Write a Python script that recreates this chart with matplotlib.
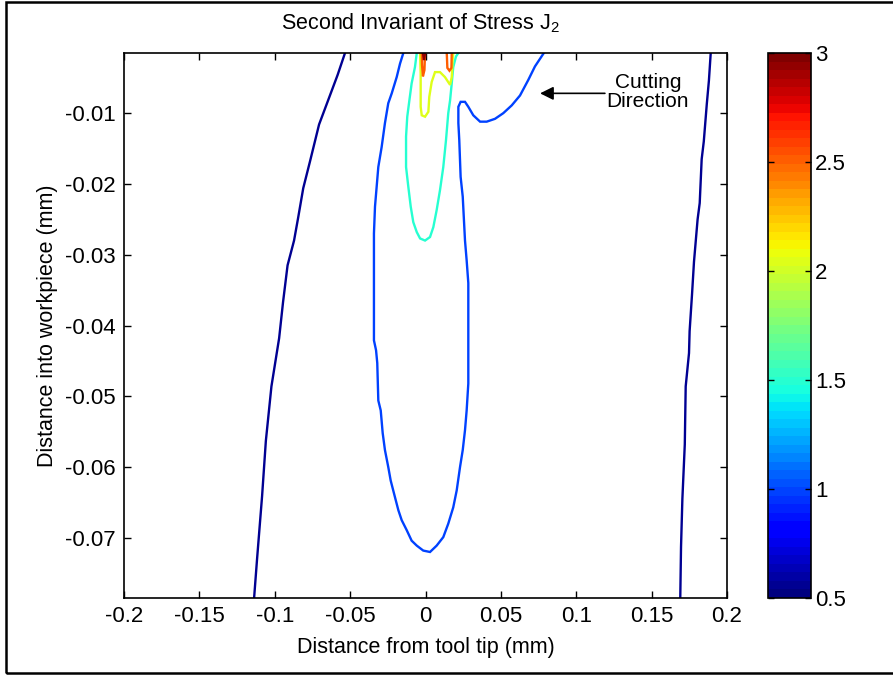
import matplotlib
matplotlib.use("Agg")
import matplotlib.pyplot as plt
import numpy as np
from matplotlib.colors import Normalize, ListedColormap
from matplotlib.cm import ScalarMappable
from matplotlib.ticker import FormatStrFormatter
from matplotlib.patches import Rectangle

plt.rcParams['font.family'] = ['Liberation Sans', 'DejaVu Sans']
plt.rcParams['mathtext.fontset'] = 'custom'
plt.rcParams['mathtext.rm'] = 'Liberation Sans'
plt.rcParams['mathtext.default'] = 'regular'

# contour levels of J2
levels = [0.55, 0.55, 1.0, 1.5, 2.05, 2.5, 2.5, 2.95]

# outer left contour
outer_left_x = [-0.0534, -0.0583, -0.0655, -0.0706, -0.0766, -0.0811, -0.0845, -0.0872,
                -0.0915, -0.0945, -0.0971, -0.1022, -0.1059, -0.1084, -0.1117, -0.1137]
outer_left_y = [-0.0015, -0.0046, -0.0087, -0.0116, -0.0168, -0.0206, -0.0248, -0.0280,
                -0.0315, -0.0367, -0.0418, -0.0486, -0.0563, -0.0641, -0.0729, -0.0785]

# outer right contour
outer_right_x = [0.1892, 0.1880, 0.1866, 0.1846, 0.1832, 0.1819, 0.1805, 0.1781,
                 0.1768, 0.1752, 0.1748, 0.1726, 0.1720, 0.1704, 0.1695, 0.1690]
outer_right_y = [-0.0015, -0.0054, -0.0087, -0.0140, -0.0165, -0.0227, -0.0250, -0.0310,
                 -0.0356, -0.0408, -0.0439, -0.0486, -0.0568, -0.0645, -0.0713, -0.0785]

# blue loop with the hook towards the cutting direction
blue_x = [-0.0147, -0.0169, -0.0191, -0.0224, -0.0247, -0.0269, -0.0291, -0.0313, -0.0324, -0.0335,
          -0.0342, -0.0342, -0.0342, -0.0328, -0.0320, -0.0313, -0.0297, -0.0284, -0.0269, -0.0247,
          -0.0231, -0.0202, -0.0180, -0.0158, -0.0125, -0.0092, -0.0058, -0.0015, 0.0030, 0.0074,
          0.0118, 0.0151, 0.0184, 0.0207, 0.0229, 0.0247, 0.0262, 0.0273, 0.0284, 0.0284,
          0.0273, 0.0262, 0.0247, 0.0233, 0.0224, 0.0218, 0.0218, 0.0233, 0.0262, 0.0284,
          0.0317, 0.0362, 0.0406, 0.0461, 0.0516, 0.0572, 0.0627, 0.0682, 0.0726, 0.0785]
blue_y = [-0.0015, -0.0030, -0.0049, -0.0072, -0.0086, -0.0114, -0.0148, -0.0176, -0.0204, -0.0232,
          -0.0270, -0.0308, -0.0421, -0.0435, -0.0453, -0.0506, -0.0520, -0.0552, -0.0576, -0.0600,
          -0.0619, -0.0643, -0.0661, -0.0675, -0.0689, -0.0704, -0.0711, -0.0718, -0.0720, -0.0711,
          -0.0699, -0.0680, -0.0657, -0.0633, -0.0600, -0.0576, -0.0548, -0.0520, -0.0482, -0.0340,
          -0.0308, -0.0280, -0.0218, -0.0190, -0.0138, -0.0114, -0.0091, -0.0084, -0.0084, -0.0091,
          -0.0103, -0.0112, -0.0112, -0.0108, -0.0100, -0.0089, -0.0075, -0.0053, -0.0034, -0.0015]

# cyan loop
cyan_x = [-0.0058, -0.0070, -0.0092, -0.0107, -0.0121, -0.0129, -0.0129, -0.0114, -0.0098, -0.0081,
          -0.0058, -0.0036, -0.0003, 0.0030, 0.0052, 0.0074, 0.0096, 0.0118, 0.0136, 0.0151,
          0.0163, 0.0174, 0.0184, 0.0202, 0.0218]
cyan_y = [-0.0015, -0.0035, -0.0058, -0.0082, -0.0105, -0.0133, -0.0176, -0.0204, -0.0232, -0.0254,
          -0.0268, -0.0277, -0.0280, -0.0275, -0.0261, -0.0237, -0.0209, -0.0176, -0.0138, -0.0100,
          -0.0082, -0.0058, -0.0035, -0.0020, -0.0015]

# yellow contour
yellow_x = [-0.0036, -0.0032, -0.0032, -0.0025, -0.0003, 0.0019, 0.0025, 0.0041, 0.0063, 0.0096,
            0.0129, 0.0163, 0.0174, 0.0180, 0.0184]
yellow_y = [-0.0015, -0.0044, -0.0091, -0.0103, -0.0105, -0.0098, -0.0077, -0.0056, -0.0042, -0.0042,
            -0.0049, -0.0060, -0.0049, -0.0025, -0.0015]

# red fingers and the dark red tip
red_left_x = [-0.0025, -0.0023, -0.0017, -0.0007, -0.0003]
red_left_y = [-0.0015, -0.0032, -0.0048, -0.0039, -0.0015]
red_right_x = [0.0141, 0.0145, 0.0159, 0.0172, 0.0174]
red_right_y = [-0.0015, -0.0036, -0.0040, -0.0036, -0.0015]
dark_x = [-0.0017, -0.0010, -0.0003]
dark_y = [-0.0015, -0.0025, -0.0015]

paths = [(outer_left_x, outer_left_y), (outer_right_x, outer_right_y), (blue_x, blue_y),
         (cyan_x, cyan_y), (yellow_x, yellow_y), (red_left_x, red_left_y),
         (red_right_x, red_right_y), (dark_x, dark_y)]

xticks = [-0.2, -0.15, -0.1, -0.05, 0, 0.05, 0.1, 0.15, 0.2]
yticks = [-0.07, -0.06, -0.05, -0.04, -0.03, -0.02, -0.01]
cbar_ticks = [0.5, 1, 1.5, 2, 2.5, 3]

cmap = ListedColormap(plt.cm.jet(np.linspace(0, 1, 64)))
norm = Normalize(vmin=0.5, vmax=3)

W, H = 893, 675
fig = plt.figure(figsize=(W / 100, H / 100), dpi=100)
ax = fig.add_axes([124 / W, 1 - 598 / H, 603 / W, 545 / H])
cax = fig.add_axes([768 / W, 1 - 598 / H, 43 / W, 545 / H])

for (px, py), lev in zip(paths, levels):
    ax.plot(px, py, color=cmap(norm(lev)), lw=1.7, solid_joinstyle='miter')

ax.set_xlim(-0.2, 0.2)
ax.set_ylim(-0.0785, -0.0015)
ax.set_xticks(xticks)
ax.set_yticks(yticks)
ax.xaxis.set_major_formatter(FormatStrFormatter('%g'))
ax.yaxis.set_major_formatter(FormatStrFormatter('%g'))
ax.tick_params(direction='in', top=True, right=True, length=5, width=1, labelsize=16, pad=6)
for s in ax.spines.values():
    s.set_linewidth(1.2)

ax.set_xlabel('Distance from tool tip (mm)', fontsize=15.5, labelpad=7)
ax.set_ylabel('Distance into workpiece (mm)', fontsize=15.5, labelpad=5)
fig.text(420 / W, 1 - 23 / H, 'Second Invariant of Stress J$_2$', fontsize=15.5,
         ha='center', va='center')

ax.annotate('', xy=(0.0760, -0.0072), xytext=(0.1190, -0.0072),
            arrowprops=dict(arrowstyle='-|>', color='black', lw=1.2,
                            mutation_scale=20, shrinkA=0, shrinkB=0))
ax.text(0.1475, -0.0070, 'Cutting\nDirection', fontsize=15, ha='center', va='center',
        linespacing=1.05)

sm = ScalarMappable(norm=norm, cmap=cmap)
cb = fig.colorbar(sm, cax=cax)
cb.set_ticks(cbar_ticks)
cb.ax.yaxis.set_major_formatter(FormatStrFormatter('%g'))
cb.ax.tick_params(direction='in', left=True, right=True, length=4, width=1,
                  labelsize=16, pad=3)
cb.outline.set_linewidth(1.2)

fig.patches.append(Rectangle((6 / W, 2 / H), 1.0, 1 - 4 / H, transform=fig.transFigure,
                             fill=False, edgecolor='black', lw=1.8))

fig.savefig('out.png', dpi=100)
